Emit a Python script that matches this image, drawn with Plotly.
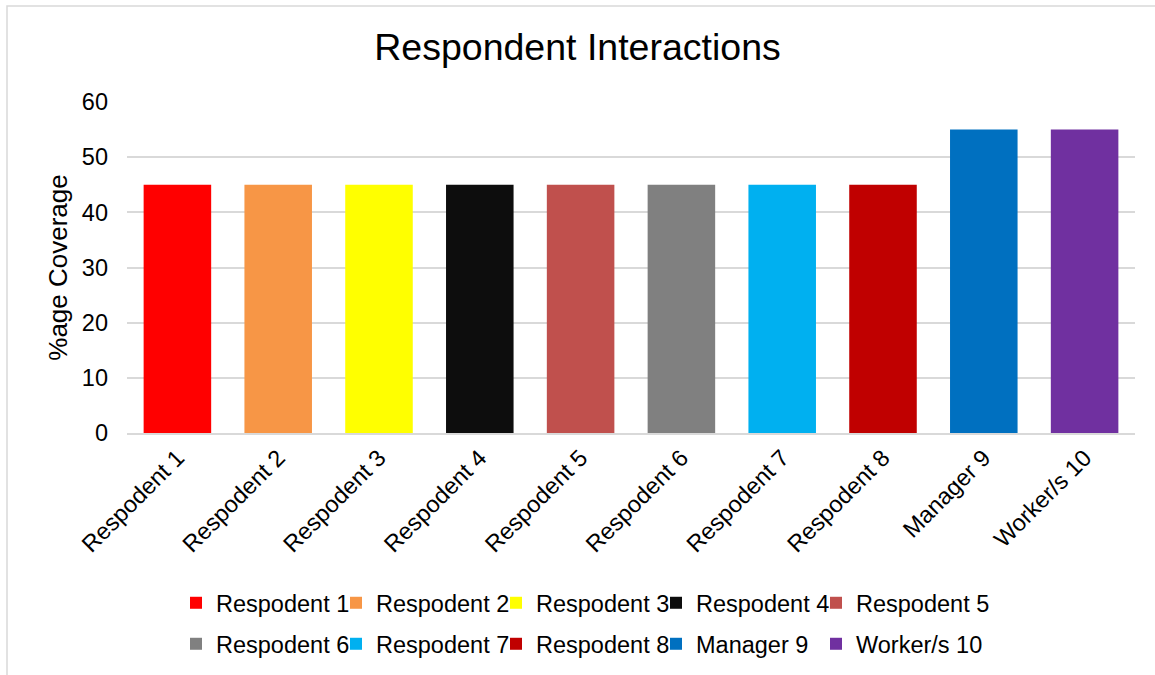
import plotly.graph_objects as go

# Respondent coverage data
categories = ["Respodent 1", "Respodent 2", "Respodent 3", "Respodent 4", "Respodent 5",
              "Respodent 6", "Respodent 7", "Respodent 8", "Manager 9", "Worker/s 10"]
coverage = [45, 45, 45, 45, 45, 45, 45, 45, 55, 55]
colors = ["#FF0000", "#F79646", "#FFFF00", "#0D0D0D", "#C0504D",
          "#808080", "#00B0F0", "#C00000", "#0070C0", "#7030A0"]
y_ticks = [0, 10, 20, 30, 40, 50, 60]

FONT = "Liberation Sans, Arial, sans-serif"
W, H = 1155, 675

fig = go.Figure()
for i, (cat, val, col) in enumerate(zip(categories, coverage, colors)):
    fig.add_trace(go.Bar(
        x=[cat], y=[val], name=cat,
        marker=dict(color=col, line=dict(width=0)),
        legend="legend" if i < 5 else "legend2",
        hoverinfo="x+y",
    ))

# blank trailing entries keep the last legend label in each row from being cut off
for lg in ("legend", "legend2"):
    fig.add_trace(go.Bar(
        x=[None], y=[None], name="", legend=lg, showlegend=True,
        marker=dict(color="rgba(0,0,0,0)", line=dict(width=0)),
        hoverinfo="skip",
    ))

legend_common = dict(
    orientation="h",
    xref="container", yref="container",
    xanchor="left", yanchor="middle",
    font=dict(family=FONT, size=23.5, color="#000000"),
    entrywidth=115, entrywidthmode="pixels",
    bgcolor="rgba(0,0,0,0)",
    traceorder="normal",
)

fig.update_layout(
    width=W, height=H,
    paper_bgcolor="white", plot_bgcolor="white",
    margin=dict(l=127, r=20, t=102, b=242, autoexpand=False),
    barmode="relative",
    bargap=0.33,
    title=dict(text="Respondent Interactions", x=0.5, xref="container",
               y=1 - 47 / H, yref="container", yanchor="middle", xanchor="center",
               font=dict(family=FONT, size=37.5, color="#000000")),
    font=dict(family=FONT, color="#000000"),
    xaxis=dict(
        categoryorder="array", categoryarray=categories,
        tickangle=-45, tickfont=dict(family=FONT, size=23.5, color="#000000"),
        showline=True, linecolor="#D9D9D9", linewidth=1.5,
        showgrid=False, ticks="", automargin=False,
    ),
    yaxis=dict(
        range=[0, 60], tickvals=y_ticks, ticktext=[str(v) for v in y_ticks],
        showgrid=True, gridcolor="#D9D9D9", gridwidth=1.5,
        zeroline=False, showline=False, ticks="",
        ticklabelstandoff=18,
        tickfont=dict(family=FONT, size=23.5, color="#000000"),
        title=dict(text="%age Coverage", standoff=6,
                   font=dict(family=FONT, size=26, color="#000000")),
        automargin=False,
    ),
    legend=dict(legend_common, x=176 / W, y=1 - 603 / H),
    legend2=dict(legend_common, x=176 / W, y=1 - 644 / H),
    showlegend=True,
    shapes=[dict(type="rect", xref="paper", yref="paper",
                 x0=(7 - 127) / 1008, x1=(1170 - 127) / 1008,
                 y0=(433 - 690) / 331, y1=(433 - 6) / 331,
                 line=dict(color="#D9D9D9", width=1.5), fillcolor="rgba(0,0,0,0)",
                 layer="below")],
)

fig.write_html("out.html")
